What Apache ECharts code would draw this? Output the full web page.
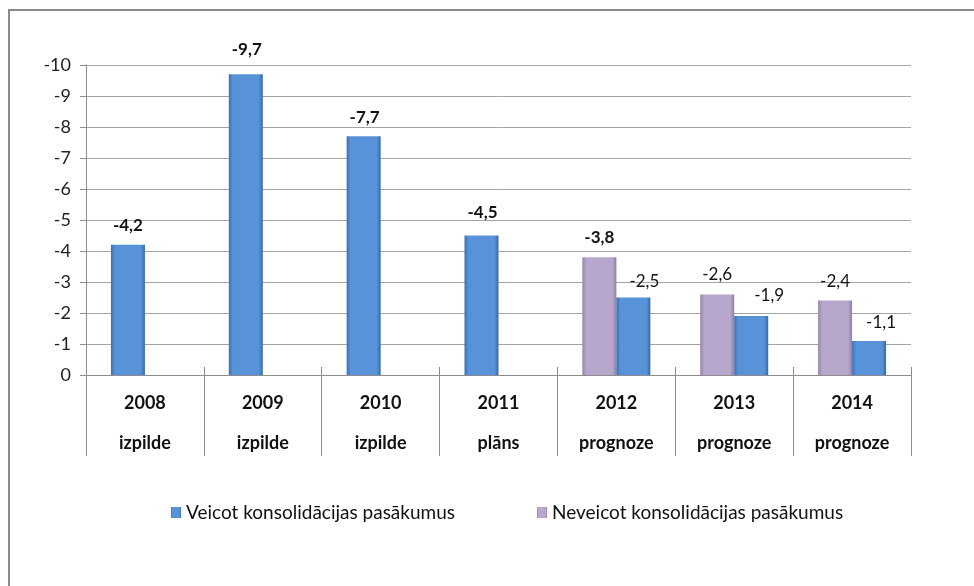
<!DOCTYPE html>
<html>
<head>
<meta charset="utf-8">
<script src="https://cdn.jsdelivr.net/npm/echarts@6/dist/echarts.min.js"></script>
<style>html,body{margin:0;padding:0;background:#fff}#c{width:974px;height:586px}</style>
</head>
<body>
<div id="c"></div>
<script>
const years = ['2008', '2009', '2010', '2011', '2012', '2013', '2014'];
const status = ['izpilde', 'izpilde', 'izpilde', 'plāns', 'prognoze', 'prognoze', 'prognoze'];
const veicot = [-4.2, -9.7, -7.7, -4.5, -2.5, -1.9, -1.1];
const neveicot = [null, null, null, null, -3.8, -2.6, -2.4];
const yTicks = [0, -1, -2, -3, -4, -5, -6, -7, -8, -9, -10];
const nameVeicot = 'Veicot konsolidācijas pasākumus';
const nameNeveicot = 'Neveicot konsolidācijas pasākumus';

// label styling (manual placements as in the original)
const offVeicot = [[0,-6],[1,-11],[1,-5],[1,-9],[11,-2.5],[18,-7],[12,-5]];
const offNeveicot = [null,null,null,null,[0,-6],[0,-6],[0,-5.6]];
const boldVeicot = [true,true,true,true,false,false,false];

const FONT = 'Lato, "Open Sans", sans-serif';
const fmt = v => String(v).replace('.', ',');

const blueGrad = {type:'linear',x:0,y:0,x2:1,y2:0,colorStops:[
  {offset:0,color:'#3d6fae'},{offset:0.12,color:'#5893da'},{offset:0.88,color:'#5893da'},{offset:1,color:'#3a68a3'}]};
const purpleGrad = {type:'linear',x:0,y:0,x2:1,y2:0,colorStops:[
  {offset:0,color:'#9584ab'},{offset:0.12,color:'#b8a7cc'},{offset:0.88,color:'#b8a7cc'},{offset:1,color:'#8f7fa6'}]};

function labelFor(off, bold) {
  return {show:true, position:'top', distance:5, offset:off,
    formatter:p=>fmt(p.value), fontFamily:FONT, fontSize:17,
    fontWeight: bold ? 'bold' : 'normal', color:'#111'};
}

const leftSlot = [], rightSlot = [], purpleSlot = [];
for (let i = 0; i < years.length; i++) {
  if (neveicot[i] == null) {
    leftSlot.push({value: veicot[i], label: labelFor(offVeicot[i], boldVeicot[i])});
    rightSlot.push('-');
    purpleSlot.push('-');
  } else {
    leftSlot.push('-');
    rightSlot.push({value: veicot[i], label: labelFor(offVeicot[i], boldVeicot[i])});
    purpleSlot.push({value: neveicot[i], label: labelFor(offNeveicot[i], i === 4)});
  }
}

const chart = echarts.init(document.getElementById('c'));
chart.setOption({
  animation:false,
  backgroundColor:'#fff',
  grid:{left:86, right:63, top:65, bottom:211, containLabel:false},
  graphic:[{type:'polyline', shape:{points:[[9,586],[9,10],[974,10]]},
    style:{stroke:'#8a8a8a', lineWidth:2, fill:null}}],
  legend:{
    data:[nameVeicot, nameNeveicot],
    left:166, top:498, itemWidth:10, itemHeight:11, itemGap:82, icon:'rect',
    textStyle:{fontFamily:FONT, fontSize:19, color:'#111'}
  },
  xAxis:[{
    type:'category', data:years.map((y,i)=>y + '\n' + status[i]),
    axisLine:{lineStyle:{color:'#8c8c8c', width:1}},
    axisTick:{show:true, length:81, lineStyle:{color:'#8c8c8c'}},
    axisLabel:{margin:8, lineHeight:40, fontFamily:FONT, fontSize:18, fontWeight:'bold', color:'#111'},
    splitLine:{show:false}
  },{
    type:'category', data:years, position:'bottom',
    axisLine:{show:false},
    axisTick:{show:true, inside:true, length:8, lineStyle:{color:'#8c8c8c'}},
    axisLabel:{show:false}, splitLine:{show:false}
  }],
  yAxis:{
    type:'value', inverse:true, min:yTicks[yTicks.length-1], max:yTicks[0], interval:1,
    axisLine:{show:true, lineStyle:{color:'#8c8c8c'}},
    axisTick:{show:true, length:6, lineStyle:{color:'#8c8c8c'}},
    axisLabel:{margin:15, fontFamily:FONT, fontSize:18, color:'#222', formatter:v=>String(v)},
    splitLine:{lineStyle:{color:'#a3a3a3', width:1}}
  },
  series:[
    {name:nameVeicot, type:'bar', stack:'left', data:leftSlot, barWidth:34, barGap:'0%',
      itemStyle:{color:blueGrad}},
    {name:nameNeveicot, type:'bar', stack:'left', data:purpleSlot, barWidth:34, barGap:'0%',
      itemStyle:{color:purpleGrad}},
    {name:nameVeicot, type:'bar', stack:'right', data:rightSlot, barWidth:34, barGap:'0%',
      itemStyle:{color:blueGrad}}
  ]
});
</script>
</body>
</html>
